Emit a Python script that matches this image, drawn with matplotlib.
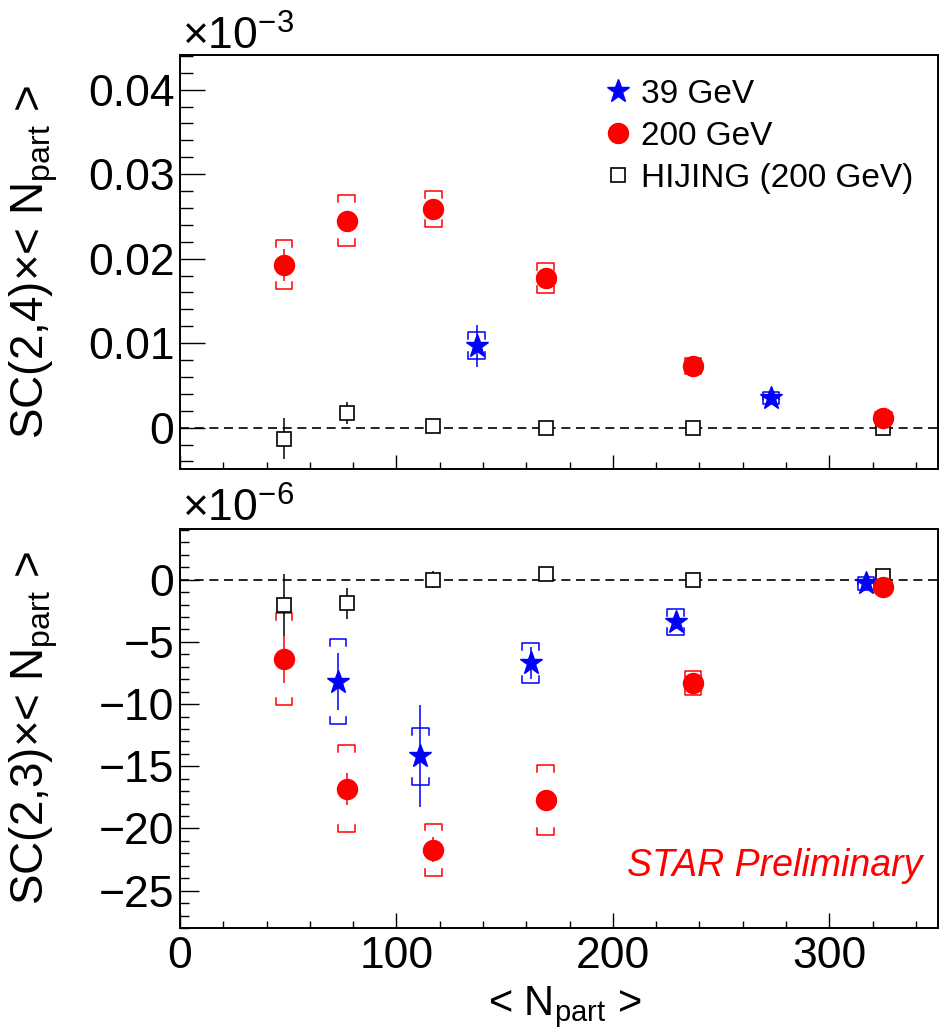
import numpy as np
import matplotlib
matplotlib.use("Agg")
import matplotlib.pyplot as plt
from matplotlib.lines import Line2D
from matplotlib.ticker import MultipleLocator, FuncFormatter

plt.rcParams['font.family'] = ['Liberation Sans', 'DejaVu Sans']
plt.rcParams['mathtext.fontset'] = 'custom'
plt.rcParams['mathtext.rm'] = 'Liberation Sans'
plt.rcParams['mathtext.it'] = 'Liberation Sans:italic'

# centrality points (<Npart>)
npart_200 = [48, 77, 117, 169, 237, 325]
npart_39_top = [137, 273]
npart_39 = [73, 111, 162, 229, 317]

# SC(2,4) x <Npart>, in units of 1e-3
sc24_200 = [0.0193, 0.0245, 0.0259, 0.0177, 0.0073, 0.0012]
sc24_200_stat = [0.0019, 0.0008, 0.0007, 0.0006, 0.0004, 0.0003]
sc24_200_sys = [0.0029, 0.0030, 0.0021, 0.0018, 0.0010, 0.0006]
sc24_39 = [0.0097, 0.0035]
sc24_39_stat = [0.0025, 0.0007]
sc24_39_sys = [0.0016, 0.0007]
sc24_hij = [-0.0013, 0.0017, 0.0002, 0.0000, 0.0000, -0.0001]
sc24_hij_stat = [0.0024, 0.0013, 0.0005, 0.0003, 0.0003, 0.0003]

# SC(2,3) x <Npart>, in units of 1e-6
sc23_200 = [-6.4, -16.8, -21.7, -17.7, -8.3, -0.6]
sc23_200_stat = [1.9, 1.3, 1.0, 0.8, 0.6, 0.4]
sc23_200_sys = [3.7, 3.5, 2.1, 2.8, 1.0, 0.4]
sc23_39 = [-8.2, -14.2, -6.7, -3.4, -0.3]
sc23_39_stat = [2.3, 4.1, 1.3, 0.6, 0.4]
sc23_39_sys = [3.4, 2.3, 1.6, 1.05, 0.5]
sc23_hij = [-2.0, -1.9, 0.0, 0.5, 0.0, 0.3]
sc23_hij_stat = [2.5, 1.25, 0.7, 0.4, 0.4, 0.4]


def brackets(ax, x, y, err, color, leg, hw=3.85):
	for xi, yi, ei in zip(x, y, err):
		top = yi + ei
		bot = yi - ei
		ax.plot([xi-hw, xi-hw, xi+hw, xi+hw], [top-leg, top, top, top-leg], color=color, lw=1.1, zorder=2)
		ax.plot([xi-hw, xi-hw, xi+hw, xi+hw], [bot+leg, bot, bot, bot+leg], color=color, lw=1.1, zorder=2)


def draw_panel(ax, hij, hij_stat, p39x, p39, p39_stat, p39_sys, p200, p200_stat, p200_sys, leg):
	ax.axhline(0, color='black', lw=1.2, linestyle=(0, (5.4, 3.4)), zorder=1)
	# HIJING
	ax.errorbar(npart_200, hij, yerr=hij_stat, fmt='none', ecolor='black', elinewidth=1.1, zorder=3)
	ax.plot(npart_200, hij, 's', ms=9.4, mfc='white', mec='black', mew=1.2, zorder=4)
	# 39 GeV
	brackets(ax, p39x, p39, p39_sys, 'blue', leg)
	ax.errorbar(p39x, p39, yerr=p39_stat, fmt='none', ecolor='blue', elinewidth=1.1, zorder=5)
	ax.plot(p39x, p39, '*', ms=17, color='blue', mec='blue', zorder=6)
	# 200 GeV
	brackets(ax, npart_200, p200, p200_sys, 'red', leg)
	ax.errorbar(npart_200, p200, yerr=p200_stat, fmt='none', ecolor='red', elinewidth=1.1, zorder=7)
	ax.plot(npart_200, p200, 'o', ms=14.4, color='red', mec='red', zorder=8)


def style(ax, xmaj_len, xmin_len, ymaj_len, ymin_len):
	for s in ax.spines.values():
		s.set_linewidth(1.4)
	ax.set_xlim(0, 350)
	ax.xaxis.set_major_locator(MultipleLocator(100))
	ax.xaxis.set_minor_locator(MultipleLocator(20))
	ax.tick_params(axis='x', which='major', direction='in', length=xmaj_len, width=1.0, labelsize=32, pad=6)
	ax.tick_params(axis='x', which='minor', direction='in', length=xmin_len, width=1.0)
	ax.tick_params(axis='y', which='major', direction='in', length=ymaj_len, width=1.0, labelsize=32, pad=4)
	ax.tick_params(axis='y', which='minor', direction='in', length=ymin_len, width=1.0)


fig = plt.figure(figsize=(9.46, 10.32), dpi=100)
ax1 = fig.add_axes([0.1903, 0.5455, 0.8008, 0.4012])
ax2 = fig.add_axes([0.1903, 0.1008, 0.8008, 0.3866], sharex=ax1)

draw_panel(ax1, sc24_hij, sc24_hij_stat, npart_39_top, sc24_39, sc24_39_stat, sc24_39_sys,
	sc24_200, sc24_200_stat, sc24_200_sys, 0.00083)
draw_panel(ax2, sc23_hij, sc23_hij_stat, npart_39, sc23_39, sc23_39_stat, sc23_39_sys,
	sc23_200, sc23_200_stat, sc23_200_sys, 0.56)

style(ax1, 10, 5, 18, 9)
style(ax2, 11, 5, 13.5, 6.7)

ax1.set_ylim(-0.0049, 0.0441)
ax1.yaxis.set_major_locator(MultipleLocator(0.01))
ax1.yaxis.set_minor_locator(MultipleLocator(0.002))
ax1.yaxis.set_major_formatter(FuncFormatter(lambda v, p: '0' if abs(v) < 1e-9 else '%.2f' % v))
ax1.tick_params(axis='x', labelbottom=False)

ax2.set_ylim(-28, 4.08)
ax2.yaxis.set_major_locator(MultipleLocator(5))
ax2.yaxis.set_minor_locator(MultipleLocator(1))
ax2.yaxis.set_major_formatter(FuncFormatter(lambda v, p: ('%d' % round(v)).replace('-', '\u2212')))

# legend
handles = [
	Line2D([], [], marker='*', ls='none', ms=17, color='blue'),
	Line2D([], [], marker='o', ls='none', ms=14.4, color='red'),
	Line2D([], [], marker='s', ls='none', ms=9.4, mfc='white', mec='black', mew=1.2),
]
ax1.legend(handles, ['39 GeV', '200 GeV', 'HIJING (200 GeV)'], loc='upper left',
	bbox_to_anchor=(0.56, 0.943), frameon=False, fontsize=24, handlelength=0.8,
	handletextpad=0.3, labelspacing=0.33, borderpad=0, borderaxespad=0)

ax2.text(0.9795, 0.13, 'STAR Preliminary', transform=ax2.transAxes, ha='right', va='baseline',
	color='red', fontsize=27, style='italic')

# axis titles and exponents
fig.text(182/946, 1-50/1032, '\u00d710$^{\u22123}$', fontsize=32, ha='left', va='baseline')
fig.text(182/946, 1-522/1032, '\u00d710$^{\u22126}$', fontsize=32, ha='left', va='baseline')
fig.text(34/946, 1-262/1032, 'SC(2,4)\u00d7< N$_{\\rm part}$ >', fontsize=33, rotation=90, ha='center', va='center')
fig.text(34/946, 1-728/1032, 'SC(2,3)\u00d7< N$_{\\rm part}$ >', fontsize=33, rotation=90, ha='center', va='center')
fig.text(565/946, 1-1015/1032, '< N$_{\\rm part}$ >', fontsize=30, ha='center', va='baseline')

fig.savefig('out.png', dpi=100)
